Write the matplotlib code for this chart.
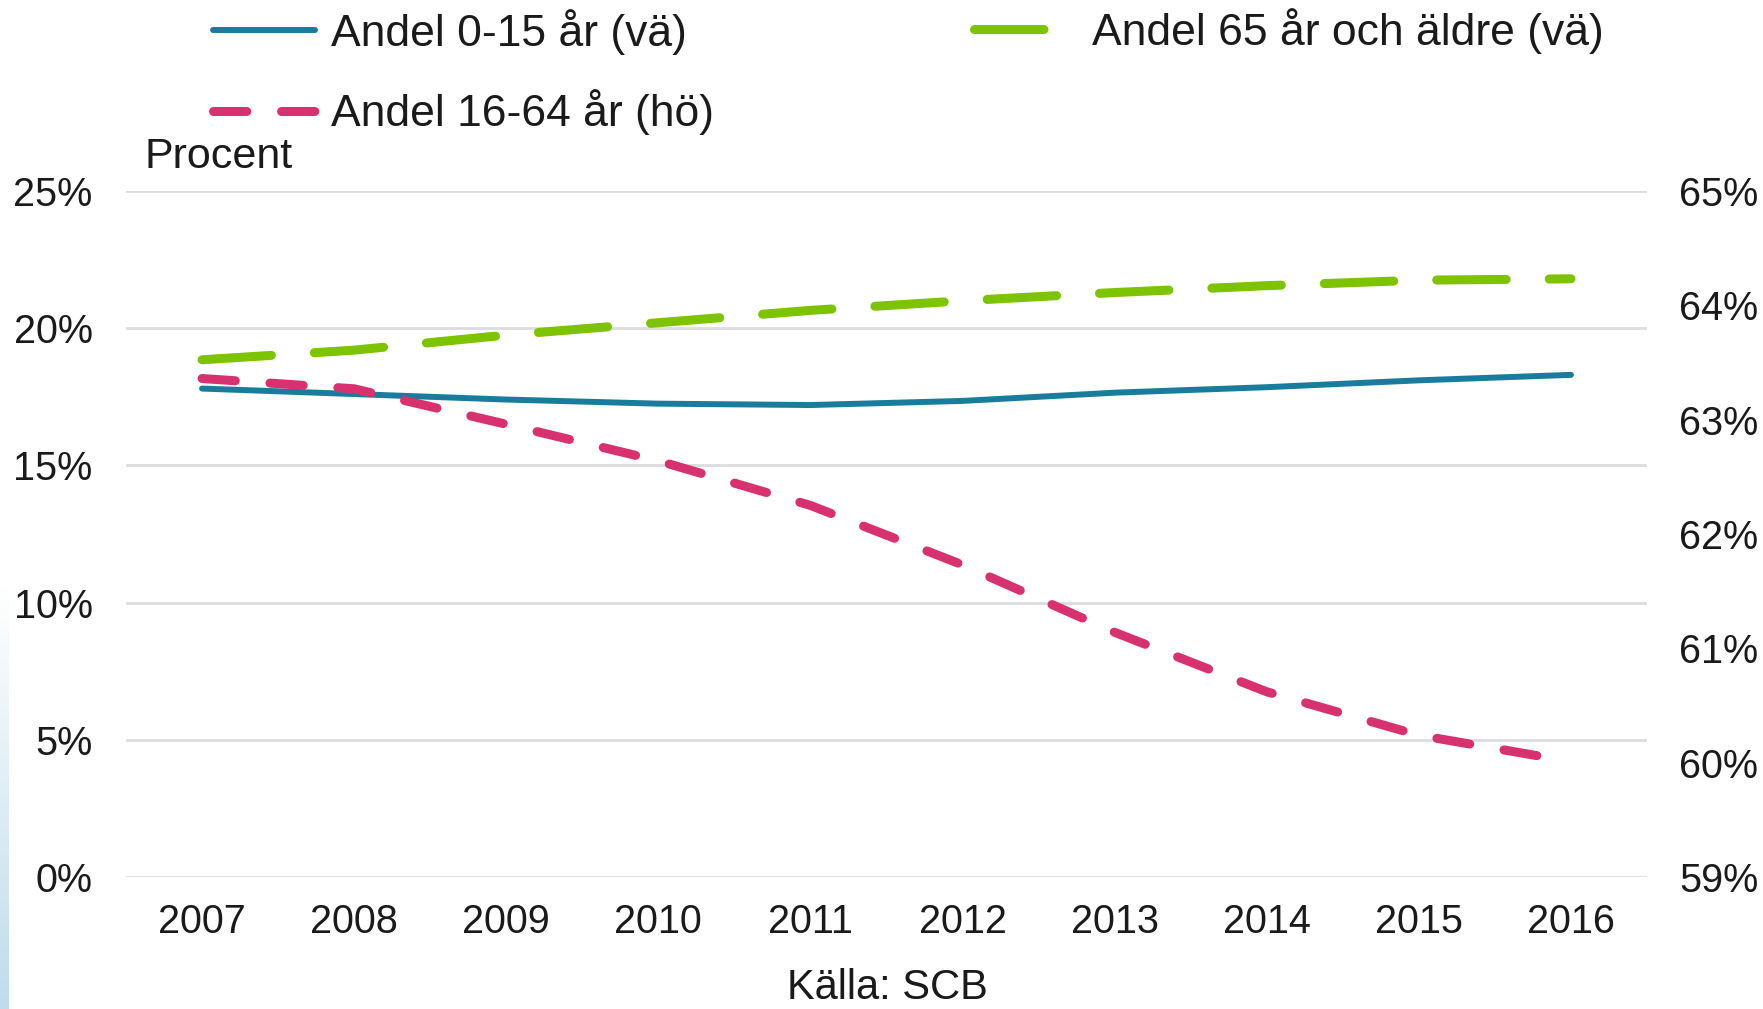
import matplotlib
matplotlib.use("Agg")
import matplotlib.pyplot as plt
import numpy as np
from matplotlib.ticker import FuncFormatter, FixedLocator
from matplotlib.colors import LinearSegmentedColormap

plt.rcParams['font.family'] = ['Liberation Sans', 'DejaVu Sans']
plt.rcParams['lines.scale_dashes'] = False

# ---- data ----
years = ["2007", "2008", "2009", "2010", "2011", "2012", "2013", "2014", "2015", "2016"]
andel_0_15 = [17.8, 17.6, 17.4, 17.25, 17.2, 17.35, 17.65, 17.85, 18.1, 18.3]      # left axis
andel_65_plus = [18.85, 19.2, 19.75, 20.2, 20.65, 21.0, 21.3, 21.55, 21.75, 21.8]  # left axis
andel_16_64 = [63.36, 63.27, 62.96, 62.64, 62.25, 61.73, 61.14, 60.62, 60.24, 60.01]  # right axis
left_ticks = [0, 5, 10, 15, 20, 25]
right_ticks = [59, 60, 61, 62, 63, 64, 65]

labels = ["Andel 0-15 år (vä)", "Andel 65 år och äldre (vä)", "Andel 16-64 år (hö)"]

BLUE = "#1A7C9C"
GREEN = "#7DC300"
PINK = "#D7316F"
GRID = "#DCDCDC"
TXT = "#1a1a1a"

W, H = 1763, 1009
fig = plt.figure(figsize=(W / 100, H / 100), dpi=100)

ax = fig.add_axes([126 / W, 1 - 877 / H, (1647 - 126) / W, (877 - 191) / H])
ax2 = ax.twinx()

x = np.arange(len(years))

l1, = ax.plot(x, andel_0_15, color=BLUE, lw=4.3, solid_capstyle='round',
              solid_joinstyle='round', label=labels[0], zorder=3)
l2, = ax.plot(x, andel_65_plus, color=GREEN, lw=6.5, linestyle=(0, (50, 31)),
              dash_capstyle='round', dash_joinstyle='round', label=labels[1], zorder=3)
l3, = ax2.plot(x, andel_16_64, color=PINK, lw=6.5, linestyle=(0, (24, 25)),
               dash_capstyle='round', dash_joinstyle='round', label=labels[2], zorder=3)

ax.set_xlim(-0.5, len(years) - 0.5)
ax.set_ylim(0, 25)
ax2.set_ylim(59, 65)

ax.set_xticks(x)
ax.set_xticklabels(years)
ax.yaxis.set_major_locator(FixedLocator(left_ticks))
ax2.yaxis.set_major_locator(FixedLocator(right_ticks))
pct = FuncFormatter(lambda v, p: f"{int(round(v))}%")
ax.yaxis.set_major_formatter(pct)
ax2.yaxis.set_major_formatter(pct)

ax.grid(axis='y', color=GRID, lw=2)
ax.set_axisbelow(True)

for a in (ax, ax2):
    for s in a.spines.values():
        s.set_visible(False)
    a.tick_params(length=0, colors=TXT, labelsize=28.5)

ax.tick_params(axis='x', pad=19)
ax.tick_params(axis='y', pad=24)
ax2.tick_params(axis='y', pad=23)

# legends
legA = fig.legend([l1, l3], [labels[0], labels[2]], loc='center left',
                  bbox_to_anchor=(212.5 / W, 1 - 72 / H), frameon=False,
                  fontsize=32, handlelength=2.3, handletextpad=0.36,
                  labelspacing=0.78, borderpad=0, borderaxespad=0)
legB = fig.legend([l2], [labels[1]], loc='center left',
                  bbox_to_anchor=(973.5 / W, 1 - 31 / H), frameon=False,
                  fontsize=32, handlelength=1.65, handletextpad=1.02,
                  borderpad=0, borderaxespad=0)
for lg in (legA, legB):
    for t in lg.get_texts():
        t.set_color(TXT)

fig.text(144 / W, 1 - 157 / H, "Procent", fontsize=31, color=TXT,
         ha='left', va='center')
fig.text(887 / W, 1 - 988 / H, "Källa: SCB", fontsize=30, color=TXT,
         ha='center', va='center')

# faint blue strip on the left edge
gax = fig.add_axes([0, 0, 9 / W, 0.42])
grad = np.linspace(0, 1, 200).reshape(-1, 1)
cm = LinearSegmentedColormap.from_list("g", ["#BFDCEB", "#FFFFFF"])
gax.imshow(grad, aspect='auto', cmap=cm, origin='lower')
gax.axis('off')

fig.savefig("out.png", dpi=100, facecolor='white')
